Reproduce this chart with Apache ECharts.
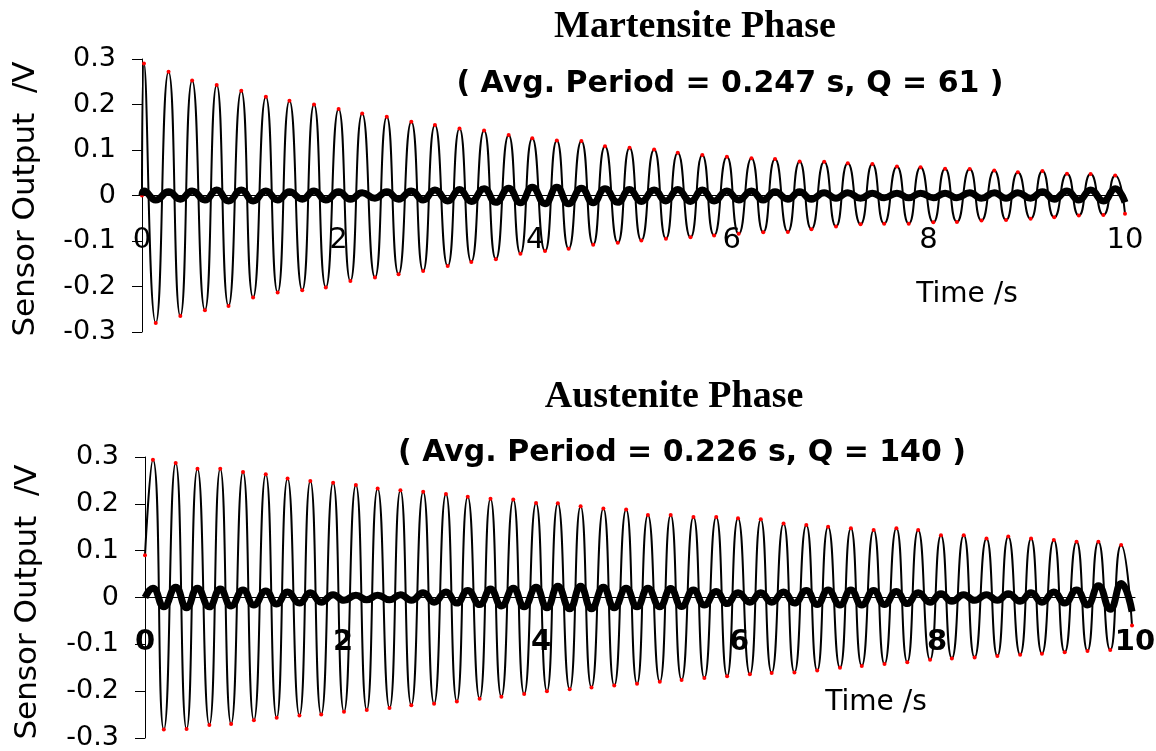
<!DOCTYPE html>
<html>
<head>
<meta charset="utf-8">
<title>Martensite / Austenite</title>
<script src="https://cdn.jsdelivr.net/npm/echarts@6/dist/echarts.min.js"></script>
<style>
  html, body { margin: 0; padding: 0; background: #fff; }
  #main { width: 1156px; height: 751px; }
</style>
</head>
<body>
<div id="main"></div>
<script>
// martensite phase: peaks and troughs
var martStart = [0, 0.0];
var martPeakT = [0.02,0.27,0.51,0.76,1.01,1.26,1.50,1.75,2.00,2.24,2.49,2.74,2.98,3.23,3.48,3.73,3.97,4.22,4.47,4.71,4.96,5.21,5.45,5.70,5.95,6.20,6.44,6.69,6.94,7.18,7.43,7.68,7.92,8.17,8.42,8.67,8.91,9.16,9.41,9.65,9.90];
var martPeakV = [0.290,0.272,0.253,0.243,0.230,0.217,0.208,0.200,0.190,0.180,0.173,0.162,0.155,0.147,0.143,0.133,0.126,0.121,0.120,0.108,0.105,0.101,0.094,0.089,0.085,0.082,0.080,0.075,0.074,0.071,0.069,0.064,0.062,0.059,0.058,0.055,0.051,0.054,0.048,0.047,0.044];
var martTroughT = [0.14,0.39,0.64,0.88,1.13,1.38,1.63,1.87,2.12,2.37,2.61,2.86,3.11,3.35,3.60,3.85,4.10,4.34,4.59,4.84,5.08,5.33,5.58,5.82,6.07,6.32,6.57,6.81,7.06,7.31,7.55,7.80,8.05,8.29,8.54,8.79,9.04,9.28,9.53,9.78,10.0];
var martTroughV = [-0.280,-0.265,-0.252,-0.243,-0.224,-0.213,-0.208,-0.202,-0.188,-0.180,-0.173,-0.166,-0.155,-0.146,-0.140,-0.128,-0.122,-0.117,-0.108,-0.104,-0.099,-0.095,-0.092,-0.088,-0.084,-0.081,-0.080,-0.074,-0.068,-0.063,-0.062,-0.062,-0.059,-0.058,-0.055,-0.054,-0.051,-0.048,-0.044,-0.043,-0.040];
var martResidual = [0.010,0.008,0.010,0.012,0.012,0.010,0.008,0.010,0.008,0.006,0.008,0.010,0.012,0.013,0.015,0.016,0.018,0.018,0.016,0.015,0.013,0.012,0.013,0.012,0.010,0.010,0.008,0.008,0.006,0.006,0.005,0.005,0.005,0.005,0.006,0.006,0.006,0.008,0.010,0.012,0.015];

// austenite phase: lower panel
var austStart = [0, 0.09];
var austPeakT = [0.08,0.31,0.53,0.76,0.99,1.22,1.44,1.67,1.90,2.13,2.35,2.58,2.81,3.04,3.26,3.49,3.72,3.95,4.17,4.40,4.63,4.86,5.08,5.31,5.54,5.77,5.99,6.22,6.45,6.68,6.90,7.13,7.36,7.59,7.81,8.04,8.27,8.50,8.72,8.95,9.18,9.41,9.63,9.86];
var austPeakV = [0.294,0.287,0.275,0.275,0.268,0.263,0.254,0.249,0.245,0.240,0.233,0.229,0.226,0.221,0.215,0.211,0.209,0.202,0.201,0.195,0.190,0.188,0.176,0.176,0.172,0.172,0.169,0.167,0.158,0.155,0.151,0.148,0.144,0.148,0.144,0.133,0.133,0.126,0.130,0.126,0.123,0.119,0.119,0.112];
var austTroughT = [0.19,0.42,0.65,0.87,1.10,1.33,1.56,1.78,2.01,2.24,2.47,2.69,2.92,3.15,3.38,3.60,3.83,4.06,4.29,4.51,4.74,4.97,5.20,5.42,5.65,5.88,6.11,6.33,6.56,6.79,7.02,7.24,7.47,7.70,7.93,8.15,8.38,8.61,8.84,9.06,9.29,9.52,9.75,9.97];
var austTroughV = [-0.282,-0.281,-0.272,-0.270,-0.262,-0.257,-0.252,-0.250,-0.244,-0.240,-0.236,-0.230,-0.227,-0.222,-0.216,-0.212,-0.206,-0.200,-0.196,-0.192,-0.188,-0.184,-0.180,-0.176,-0.172,-0.168,-0.164,-0.161,-0.160,-0.156,-0.150,-0.146,-0.142,-0.138,-0.133,-0.130,-0.128,-0.125,-0.122,-0.120,-0.117,-0.114,-0.112,-0.060];
var austResidual = [0.020,0.022,0.020,0.018,0.016,0.014,0.012,0.010,0.006,0.005,0.005,0.006,0.010,0.012,0.015,0.018,0.020,0.022,0.024,0.024,0.022,0.020,0.020,0.019,0.016,0.013,0.010,0.010,0.012,0.015,0.016,0.016,0.015,0.013,0.010,0.008,0.006,0.006,0.008,0.010,0.012,0.016,0.025,0.030];

var yTicks = [-0.3, -0.2, -0.1, 0, 0.1, 0.2, 0.3];
var xTicks = [0, 2, 4, 6, 8, 10];

function signal(start, pt, pv, tt, tv) {
  var out = [start];
  for (var i = 0; i < pt.length; i++) {
    out.push([pt[i], pv[i]]);
    out.push([tt[i], tv[i]]);
  }
  return out;
}
function residual(pt, tt, amp) {
  var out = [[0, 0]];
  for (var i = 0; i < pt.length; i++) {
    out.push([pt[i], amp[i]]);
    out.push([tt[i], -amp[i]]);
  }
  return out;
}

var sans = '"DejaVu Sans", Verdana, sans-serif';
var serif = '"Liberation Serif", "Times New Roman", serif';
var gridH = [273, 281];

function makeX(idx, bold) {
  return {
    type: 'value', gridIndex: idx,
    min: xTicks[0], max: xTicks[xTicks.length - 1], interval: 2,
    // the axis sits on y = 0, half way up each grid
    offset: -gridH[idx] / 2,
    axisLine: { onZero: false, lineStyle: { color: '#000', width: 1 } },
    axisTick: { show: false },
    splitLine: { show: false },
    axisLabel: { color: '#000', fontFamily: sans, fontSize: 29, fontWeight: bold ? 'bold' : 'normal',
      margin: 30, showMinLabel: true, showMaxLabel: true }
  };
}
function makeY(idx) {
  return {
    type: 'value', gridIndex: idx,
    min: yTicks[0], max: yTicks[yTicks.length - 1], interval: 0.1,
    axisLine: { show: true, lineStyle: { color: '#000', width: 1 } },
    axisTick: { show: true, length: 10, lineStyle: { color: '#000' } },
    splitLine: { show: false },
    axisLabel: { color: '#000', fontFamily: sans, fontSize: 27, margin: 26,
      formatter: function (v) { return String(Math.round(v * 10) / 10); } }
  };
}
function wave(idx, data) {
  return {
    type: 'line', xAxisIndex: idx, yAxisIndex: idx, data: data,
    smooth: 0.6, showSymbol: true, symbol: 'circle', symbolSize: 4,
    itemStyle: { color: '#ff0000' },
    lineStyle: { color: '#000', width: 2 },
    animation: false, z: 3
  };
}
function band(idx, data) {
  return {
    type: 'line', xAxisIndex: idx, yAxisIndex: idx, data: data,
    smooth: 0.5, showSymbol: false,
    lineStyle: { color: '#000', width: 7 },
    animation: false, z: 4
  };
}
function label(txt, x, y, font, rot) {
  return {
    type: 'text', x: x, y: y, rotation: rot || 0, z: 10,
    style: { text: txt, font: font, fill: '#000', align: 'center', verticalAlign: 'middle' }
  };
}

var chart = echarts.init(document.getElementById('main'));
chart.setOption({
  backgroundColor: '#fff',
  animation: false,
  grid: [
    { left: 142, top: 59, width: 983, height: gridH[0], outerBoundsMode: 'none', containLabel: false },
    { left: 145, top: 457, width: 990, height: gridH[1], outerBoundsMode: 'none', containLabel: false }
  ],
  xAxis: [makeX(0, false), makeX(1, true)],
  yAxis: [makeY(0), makeY(1)],
  series: [
    wave(0, signal(martStart, martPeakT, martPeakV, martTroughT, martTroughV)),
    band(0, residual(martPeakT, martTroughT, martResidual)),
    wave(1, signal(austStart, austPeakT, austPeakV, austTroughT, austTroughV)),
    band(1, residual(austPeakT, austTroughT, austResidual))
  ],
  graphic: { elements: [
    label('Martensite Phase', 695, 27, 'bold 38px ' + serif),
    label('( Avg. Period = 0.247 s, Q = 61 )', 730, 84, 'bold 30px ' + sans),
    label('Austenite Phase', 674, 397, 'bold 38px ' + serif),
    label('( Avg. Period = 0.226 s, Q = 140 )', 682, 453, 'bold 30px ' + sans),
    label('Sensor Output  /V', 26, 199, '31px ' + sans, Math.PI / 2),
    label('Sensor Output  /V', 28, 602, '31px ' + sans, Math.PI / 2),
    label('Time /s', 967, 295, '28px ' + sans),
    label('Time /s', 876, 703, '28px ' + sans)
  ] }
});
</script>
</body>
</html>
